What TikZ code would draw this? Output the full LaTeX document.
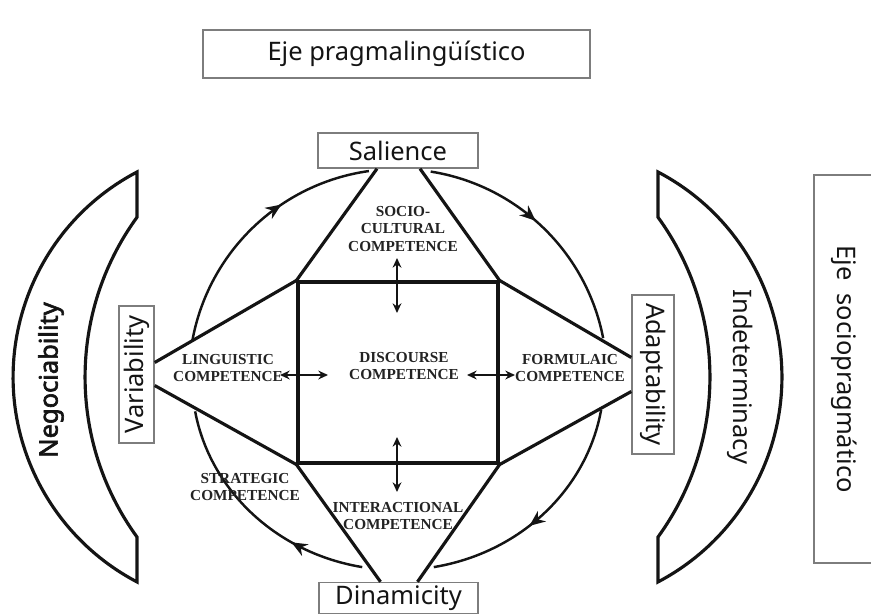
\documentclass[tikz,border=0pt]{standalone}
\usepackage{fontspec}
\setmainfont{Noto Sans}
\newfontfamily\negfont{Noto Sans}[AutoFakeBold=2.5]
\newfontfamily\compfont{Liberation Serif}
\usepackage{graphicx}
\usetikzlibrary{arrows.meta,positioning,calc,decorations.markings}
\definecolor{InkBlack} {RGB}{ 20, 20, 20}
\definecolor{BoxGray}  {RGB}{125,125,125}
\definecolor{TextGray} {RGB}{ 35, 35, 35}
\tikzset{
  %% 轴标签框
  axbox/.style={rectangle,draw=BoxGray,line width=0.8pt,inner sep=0pt,
                font=\fontsize{14.5}{17}\selectfont,text=InkBlack},
  %% 能力标签
  complbl/.style={font=\compfont\bfseries\fontsize{8.7}{9.8}\selectfont,
                  text=TextGray,align=center,inner sep=0pt},
  %% 粗线骨架
  skel/.style={line width=1.8pt,color=InkBlack},
  %% 外圈弧线 + 中间箭头
  arcarr/.style={line width=1.4pt,color=InkBlack,
                 decoration={markings,mark=at position #1 with
                   {\arrow{Stealth[length=9pt,width=7.5pt]}}},
                 postaction={decorate}},
  %% 双向箭头
  dblarr/.style={{Stealth[length=5.5pt,width=5pt]}-{Stealth[length=5.5pt,width=5pt]},
                 line width=1.1pt,color=InkBlack},
  %% 括号形
  cresc/.style={line width=1.8pt,color=InkBlack,line join=miter},
  bigtxt/.style={font=\fontsize{14.5}{17}\selectfont,text=InkBlack,inner sep=0pt},
}

\begin{document}
\begin{tikzpicture}[x=0.02cm,y=0.02cm]
    \useasboundingbox (0,0) rectangle (871,613);

    %% 顶部标题
    \node[axbox,minimum width=7.74cm,minimum height=0.96cm] (prag) at (396.5,559) {Eje pragmalingüístico};

    %% 四个极点
    \node[axbox,minimum width=3.2cm,minimum height=0.7cm]   (sal) at (398,462.5) {Salience};
    \node[axbox,minimum width=3.18cm,minimum height=0.62cm] (dyn) at (398.5,15)  {Dinamicity};
    \node[axbox,minimum width=0.7cm,minimum height=2.74cm]  (var) at (136.5,238.5) {\rotatebox{90}{Variability}};
    \node[axbox,minimum width=0.84cm,minimum height=3.18cm] (adp) at (653,238.5) {\rotatebox{-90}{Adaptability}};

    %% 右侧轴
    \node[axbox,minimum width=1.2cm,minimum height=7.76cm] (socio) at (844,244) {\rotatebox{-90}{Eje\ \ sociopragmático}};

    %% 中心方框
    \node[draw=InkBlack,line width=1.8pt,minimum width=4cm,minimum height=3.62cm,inner sep=0pt] (dsq) at (398,240.5) {};

    %% 骨架线
    \draw[skel] ($(sal.south)+(-21,0)$) -- (dsq.north west);
    \draw[skel] ($(sal.south)+(22,0)$)  -- (dsq.north east);
    \draw[skel] ($(dyn.north)+(-18,0)$) -- (dsq.south west);
    \draw[skel] ($(dyn.north)+(19,0)$)  -- (dsq.south east);
    \draw[skel] ($(var.east)+(0,12)$)   -- (dsq.north west);
    \draw[skel] ($(var.east)+(0,-11)$)  -- (dsq.south west);
    \draw[skel] ($(adp.west)+(0,17)$)   -- (dsq.north east);
    \draw[skel] ($(adp.west)+(0,-17)$)  -- (dsq.south east);

    %% 外圈（顺时针）
    \coordinate (ctr) at (398,235);
    \draw[arcarr=0.64] ($(ctr)+(170:209)$) arc[start angle=170,end angle=98,radius=209];
    \draw[arcarr=0.46] ($(ctr)+(81:209)$)  arc[start angle=81,end angle=11,radius=209];
    \draw[arcarr=0.57] ($(ctr)+({206*cos(-9.6)},{192*sin(-9.6)})$)
      arc[start angle=-9.6,end angle=-80,x radius=206,y radius=192];
    \draw[arcarr=0.31] ($(ctr)+({206*cos(-100)},{192*sin(-100)})$)
      arc[start angle=-100,end angle=-170,x radius=206,y radius=192];

    %% 能力标签
    \node[complbl] (socl)  at (403,384) {SOCIO-\\CULTURAL\\COMPETENCE};
    \node[complbl] (ling)  at (228,245) {LINGUISTIC\\COMPETENCE};
    \node[complbl] (disc)  at (404,247) {DISCOURSE\\COMPETENCE};
    \node[complbl] (form)  at (570,245) {FORMULAIC\\COMPETENCE};
    \node[complbl] (strat) at (245,126) {STRATEGIC\\COMPETENCE};
    \node[complbl] (inter) at (398,97)  {INTERACTIONAL\\COMPETENCE};

    %% 双向箭头
    \coordinate (vt1) at (397,355); \coordinate (vt2) at (397,300);
    \coordinate (vb1) at (397,176); \coordinate (vb2) at (397,121);
    \coordinate (hl1) at (280,238); \coordinate (hl2) at (328,238);
    \coordinate (hr1) at (467,238); \coordinate (hr2) at (515,238);
    \draw[dblarr] (vt1) -- (vt2);
    \draw[dblarr] (vb1) -- (vb2);
    \draw[dblarr] (hl1) -- (hl2);
    \draw[dblarr] (hr1) -- (hr2);

    %% 左右括号
    \draw[cresc] (137,441) arc[start angle=117.7,end angle=242.3,radius=231.5]
      -- (137,76) arc[start angle=216,end angle=144,radius=272] -- cycle;
    \draw[cresc] (658,441) arc[start angle=62.3,end angle=-62.3,radius=231.5]
      -- (658,76) arc[start angle=-36,end angle=36,radius=272] -- cycle;
    \node[bigtxt,font=\negfont\bfseries\fontsize{14.5}{17}\selectfont] (neg) at (51,233) {\rotatebox{90}{Negociability}};
    \node[bigtxt] (ind) at (740,236) {\rotatebox{-90}{Indeterminacy}};
\end{tikzpicture}
\end{document}
